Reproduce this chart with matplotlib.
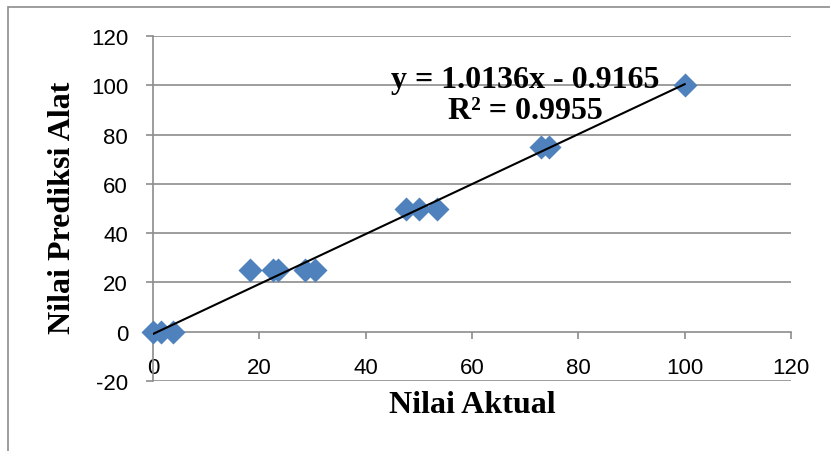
import matplotlib
matplotlib.use("Agg")
import matplotlib.pyplot as plt
import numpy as np
from matplotlib.patches import Rectangle

plt.rcParams['axes.unicode_minus'] = False

# Data
aktual = [0, 1.5, 3.8, 18.2, 22.6, 23.5, 28.6, 30.5, 47.6, 50.0, 53.4, 73.0, 74.5, 100]
prediksi = [0, 0, 0, 25, 25, 25, 25, 25, 50, 50, 50, 75, 75, 100]
slope = 1.0136
intercept = -0.9165
r2 = 0.9955
xticks = [0, 20, 40, 60, 80, 100, 120]
yticks = [-20, 0, 20, 40, 60, 80, 100, 120]

fig = plt.figure(figsize=(8.3, 4.52), dpi=100)
# chart-area border (cropped frame)
fig.patches.append(Rectangle((8/830, -0.1), 1.2, 1 - 8/452 + 0.1, transform=fig.transFigure,
                             fill=False, edgecolor='#8c8c8c', linewidth=1.2))

ax = fig.add_axes([153/830, 1 - 382/452, (791 - 153)/830, (382 - 37)/452])
ax.set_xlim(0, 120)
ax.set_ylim(-20, 120)

for t in yticks:
    if t != 0:
        ax.axhline(t, color='#8c8c8c', linewidth=1.2, zorder=0)

for s in ['top', 'right', 'bottom']:
    ax.spines[s].set_visible(False)
ax.spines['left'].set_color('#8c8c8c')
ax.spines['left'].set_linewidth(1.2)
ax.spines['bottom'].set_visible(True)
ax.spines['bottom'].set_position(('data', 0))
ax.spines['bottom'].set_color('#8c8c8c')
ax.spines['bottom'].set_linewidth(1.2)

ax.set_xticks(xticks)
ax.set_yticks(yticks)
ax.tick_params(axis='both', colors='#8c8c8c', labelcolor='black', labelsize=16,
               length=5, width=1.2, direction='out')
for lab in ax.get_xticklabels() + ax.get_yticklabels():
    lab.set_fontfamily('Liberation Sans')
ax.tick_params(axis='y', pad=13)
ax.tick_params(axis='x', pad=13)

ax.scatter(aktual, prediksi, marker='D', s=150, color='#4F81BD', zorder=3, linewidths=0,
           clip_on=False)

xl = np.array([min(aktual), max(aktual)])
ax.plot(xl, slope * xl + intercept, color='black', linewidth=1.5, zorder=4)

fig.text(525/830, 1 - 96/452, f"y = {slope}x - {-intercept}\nR² = {r2}", ha='center', va='center',
         fontfamily='Liberation Serif', fontweight='bold', fontsize=23, linespacing=1.05)

fig.text(472/830, 1 - 406/452, "Nilai Aktual", ha='center', va='center',
         fontfamily='Liberation Serif', fontweight='bold', fontsize=23)
fig.text(63/830, 1 - 208/452, "Nilai Prediksi Alat", ha='center', va='center', rotation=90,
         fontfamily='Liberation Serif', fontweight='bold', fontsize=23)

fig.savefig("out.png", dpi=100)
